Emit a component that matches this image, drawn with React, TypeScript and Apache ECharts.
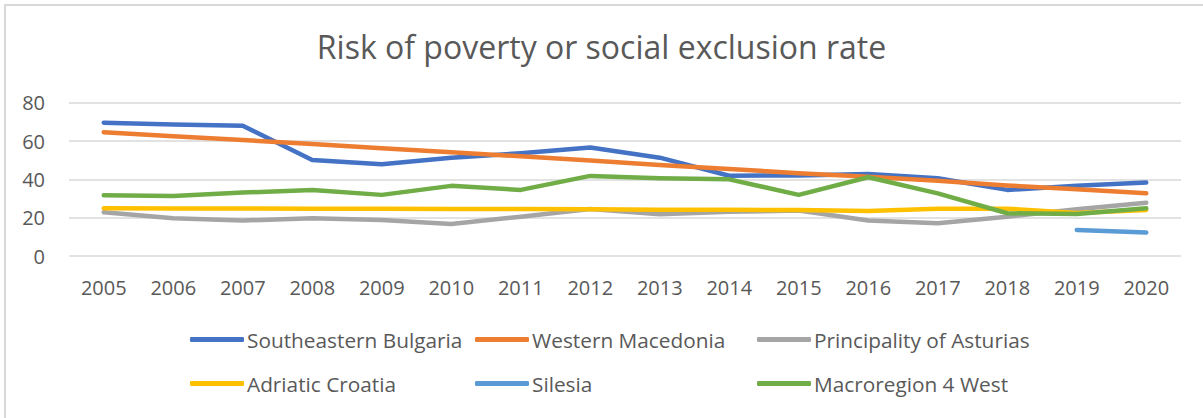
import React, { useEffect, useRef } from "react";
import * as echarts from "echarts";

const years = ["2005","2006","2007","2008","2009","2010","2011","2012","2013","2014","2015","2016","2017","2018","2019","2020"];
const southeasternBulgaria = [69.6, 68.6, 68.0, 50.1, 47.9, 51.3, 53.6, 56.6, 51.3, 41.9, 42.0, 42.8, 40.6, 34.5, 36.6, 38.3];
const westernMacedonia = [64.6, 62.5, 60.5, 58.5, 56.2, 54.2, 52.0, 49.8, 47.5, 45.4, 43.2, 41.4, 39.3, 36.8, 34.8, 32.7];
const asturias = [22.8, 19.7, 18.5, 19.7, 18.8, 16.7, 20.5, 24.5, 21.8, 23.1, 23.7, 18.5, 17.1, 20.5, 24.4, 27.8];
const adriaticCroatia = [24.9, 24.8, 24.8, 24.7, 24.6, 24.5, 24.5, 24.4, 24.2, 24.1, 24.0, 23.5, 24.7, 24.7, 22.5, 24.0];
const silesia = [null, null, null, null, null, null, null, null, null, null, null, null, null, null, 13.6, 12.2];
const macroregion4West = [31.7, 31.3, 33.1, 34.5, 31.9, 36.6, 34.5, 41.8, 40.6, 40.0, 31.9, 41.1, 32.7, 22.3, 21.9, 24.9];
const yTicks = [0, 20, 40, 60, 80];

const seriesDefs = [
  { name: "Southeastern Bulgaria", data: southeasternBulgaria, color: "#4472C4" },
  { name: "Western Macedonia", data: westernMacedonia, color: "#ED7D31" },
  { name: "Principality of Asturias", data: asturias, color: "#A5A5A5" },
  { name: "Adriatic Croatia", data: adriaticCroatia, color: "#FFC000" },
  { name: "Silesia", data: silesia, color: "#5B9BD5" },
  { name: "Macroregion 4 West", data: macroregion4West, color: "#70AD47" },
];

const legendPos = [
  { left: 190, top: 329 },
  { left: 475, top: 329 },
  { left: 757, top: 329 },
  { left: 190, top: 373 },
  { left: 475, top: 373 },
  { left: 757, top: 373 },
];

export default function App() {
  const ref = useRef<HTMLDivElement>(null);
  useEffect(() => {
    if (!ref.current) return;
    const chart = echarts.init(ref.current, null, { renderer: "svg" });
    const font = "'Open Sans', sans-serif";
    chart.setOption({
      animation: false,
      backgroundColor: "#ffffff",
      textStyle: { fontFamily: font },
      title: {
        text: "Risk of poverty or social exclusion rate",
        left: "center",
        top: 25,
        textStyle: { fontFamily: font, fontSize: 32, fontWeight: "normal", color: "#595959" },
      },
      grid: { left: 69, right: 22, top: 102.7, bottom: 162, containLabel: false },
      xAxis: {
        type: "category",
        data: years,
        boundaryGap: true,
        axisLine: { show: false },
        axisTick: { show: false },
        axisLabel: { fontFamily: font, fontSize: 20, color: "#595959", margin: 21 },
      },
      yAxis: {
        type: "value",
        min: yTicks[0],
        max: yTicks[yTicks.length - 1],
        interval: 20,
        axisLine: { show: false },
        axisTick: { show: false },
        splitLine: { lineStyle: { color: "#D9D9D9", width: 1.5 } },
        axisLabel: { fontFamily: font, fontSize: 20, color: "#595959", margin: 24 },
      },
      legend: seriesDefs.map((s, i) => ({
        data: [{ name: s.name, icon: "roundRect" }],
        left: legendPos[i].left,
        top: legendPos[i].top,
        itemWidth: 54,
        itemHeight: 5,
        itemStyle: { color: s.color, borderWidth: 0 },
        padding: 0,
        textStyle: { fontFamily: font, fontSize: 20.8, color: "#595959", padding: [0, 0, 0, -2] },
      })),
      graphic: [
        {
          type: "polyline",
          shape: { points: [[5, 418], [5, 5], [1203, 5]] },
          style: { stroke: "#D9D9D9", lineWidth: 2, fill: "none" },
          silent: true,
        },
      ],
      series: seriesDefs.map((s) => ({
        name: s.name,
        type: "line",
        data: s.data,
        symbol: "none",
        showSymbol: false,
        connectNulls: false,
        color: s.color,
        lineStyle: { color: s.color, width: 4.5, cap: "round", join: "round" },
        itemStyle: { color: s.color },
      })),
    });
    return () => chart.dispose();
  }, []);
  return <div ref={ref} style={{ position: "fixed", left: 0, top: 0, width: 1203, height: 418 }} />;
}
